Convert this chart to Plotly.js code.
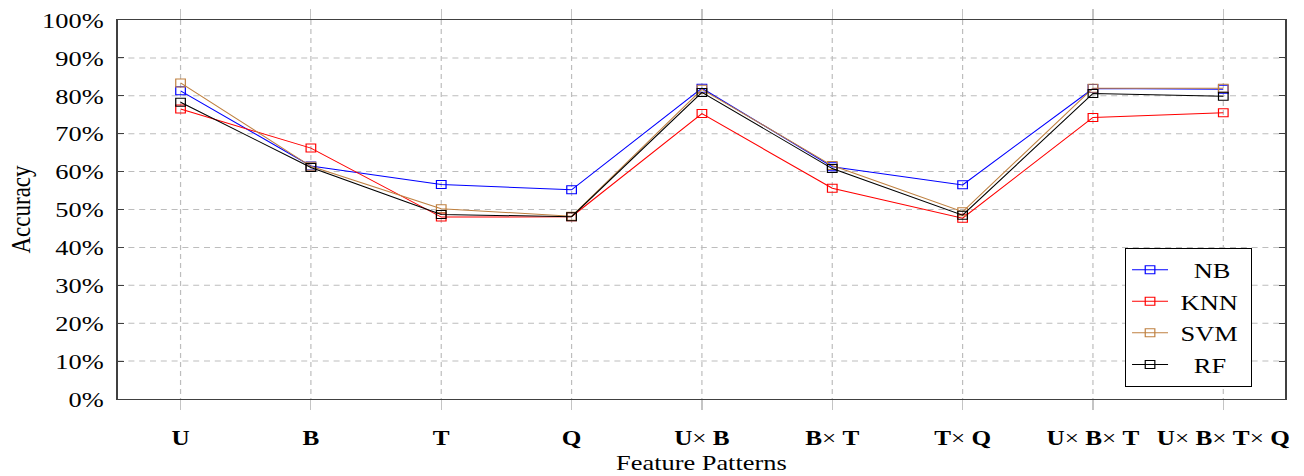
<!DOCTYPE html>
<html>
<head>
<meta charset="utf-8">
<script src="https://cdn.plot.ly/plotly-3.0.1.min.js"></script>
<style>
  html, body { margin: 0; padding: 0; width: 1304px; height: 476px; overflow: hidden; background: #fff; }
  #chart { width: 1087px; height: 476px; transform: scaleX(1.2); transform-origin: 0 0; }
  #chart .gridlayer path { shape-rendering: auto !important; }
</style>
</head>
<body>
<div id="chart"></div>
<script>
// Categories and tick labels
const categories = ['U', 'B', 'T', 'Q', 'U×B', 'B×T', 'T×Q', 'U×B×T', 'U×B×T×Q'];
const tickLabels = ['<b>U</b>', '<b>B</b>', '<b>T</b>', '<b>Q</b>', '<b>U</b>× <b>B</b>', '<b>B</b>× <b>T</b>',
                    '<b>T</b>× <b>Q</b>', '<b>U</b>× <b>B</b>× <b>T</b>', '<b>U</b>× <b>B</b>× <b>T</b>× <b>Q</b>'];
// Accuracy (%) per classifier
const nb  = [81.3, 61.5, 56.6, 55.2, 82.0, 61.3, 56.5, 81.9, 81.7];
const knn = [76.5, 66.2, 48.0, 48.1, 75.3, 55.6, 47.7, 74.3, 75.5];
const svm = [83.4, 61.4, 50.2, 48.2, 81.7, 61.6, 49.4, 82.0, 82.0];
const rf  = [78.3, 61.1, 48.7, 48.1, 80.9, 60.8, 48.5, 80.6, 79.9];
const yTicks = [0, 10, 20, 30, 40, 50, 60, 70, 80, 90, 100];
const yTickLabels = ['0%', '10%', '20%', '30%', '40%', '50%', '60%', '70%', '80%', '90%', '100%'];
// legend names (non-breaking spaces centre the labels as in the reference legend)
const seriesNames = ['\u00a0\u00a0\u00a0NB', '\u00a0KNN\u00a0', '\u00a0SVM\u00a0', '\u00a0\u00a0\u00a0RF'];

const FONT = 'Liberation Serif, Times New Roman, serif';

function series(name, y, color) {
  return {
    type: 'scatter', mode: 'lines+markers', name: name,
    x: categories, y: y,
    line: { color: color, width: 1 },
    marker: { symbol: 'square-open', size: 8, color: color, line: { color: color, width: 1 } },
    cliponaxis: false
  };
}

const data = [
  series(seriesNames[0], nb, '#0000ff'),
  series(seriesNames[1], knn, '#ff0000'),
  series(seriesNames[2], svm, '#bf8040'),
  series(seriesNames[3], rf, '#000000')
];

const layout = {
  width: 1087, height: 476,
  margin: { l: 97.5, r: 16, t: 20, b: 77 },
  paper_bgcolor: '#ffffff', plot_bgcolor: '#ffffff',
  font: { family: FONT, size: 22, color: '#000' },
  showlegend: true,
  legend: {
    x: 0.9716, xanchor: 'right', y: 0.032, yanchor: 'bottom',
    bgcolor: '#ffffff', bordercolor: '#000000', borderwidth: 1,
    font: { family: FONT, size: 22, color: '#000' },
    traceorder: 'normal'
  },
  xaxis: {
    type: 'category',
    range: [-0.483, 8.475],
    tickvals: categories, ticktext: tickLabels,
    tickfont: { family: FONT, size: 21, color: '#000' },
    showgrid: true, gridcolor: '#bdbdbd', gridwidth: 1, griddash: '5px,4px',
    showline: true, linecolor: '#404040', linewidth: 1.2, mirror: 'ticks',
    ticks: 'outside', ticklen: 10, tickcolor: '#c4c4c4', tickwidth: 1,
    ticklabelstandoff: 10,
    zeroline: false,
    title: { text: 'Feature Patterns', font: { family: FONT, size: 22, color: '#000' }, standoff: 5 }
  },
  yaxis: {
    range: [0, 100],
    tickvals: yTicks, ticktext: yTickLabels,
    tickfont: { family: FONT, size: 22, color: '#000' },
    showgrid: true, gridcolor: '#bdbdbd', gridwidth: 1, griddash: '5px,4px',
    showline: true, linecolor: '#404040', linewidth: 1.2, mirror: 'ticks',
    ticks: 'inside', ticklen: 5, tickcolor: '#404040', tickwidth: 1,
    ticklabelstandoff: 6,
    zeroline: false,
    title: { text: 'Accuracy', font: { family: FONT, size: 23, color: '#000' }, standoff: 3 }
  }
};

Plotly.newPlot('chart', data, layout, { displayModeBar: false, staticPlot: true });
</script>
</body>
</html>
